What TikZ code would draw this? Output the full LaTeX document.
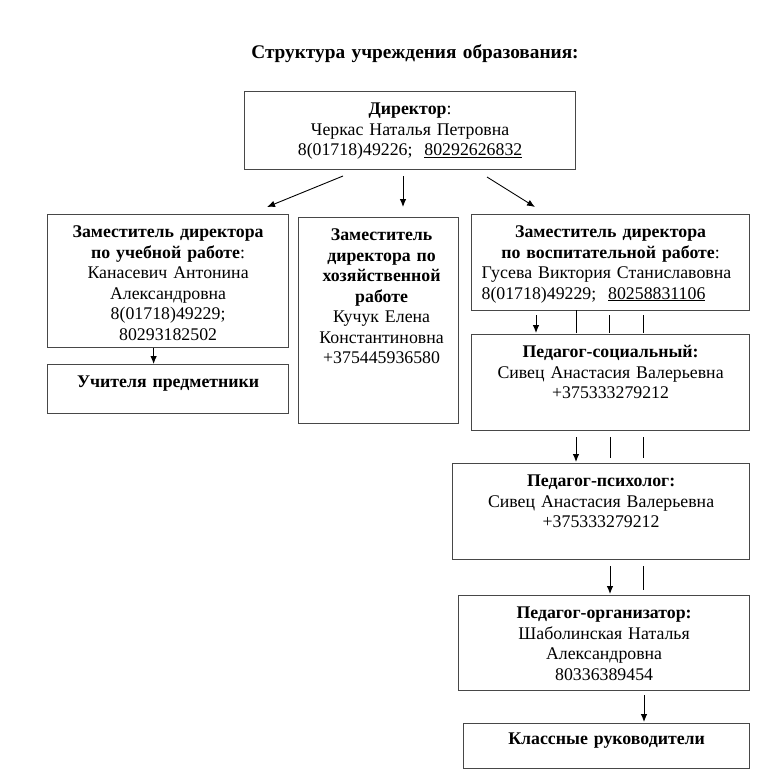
\documentclass[tikz,border=0pt]{standalone}
\usepackage{fontspec}
\setmainfont{Liberation Serif}
\usetikzlibrary{arrows.meta}

\tikzset{
    box/.style={draw=black!72, line width=1.2pt, anchor=north west, inner sep=0pt},
    txt/.style={anchor=base, align=center, inner sep=0pt,
                font=\fontsize{17.8pt}{20.5pt}\selectfont},
    arr/.style={line width=0.9pt, -{Latex[length=8pt,width=6.5pt]}},
    tick/.style={line width=0.9pt}
}

\begin{document}
\begin{tikzpicture}[
    % pixel-like units, y goes down
    x=1pt,
    y=-1pt
]
    \useasboundingbox (0,0) rectangle (776,774);

    % --- Title ---
    \node[txt, text width=420pt, font=\fontsize{19.3pt}{22pt}\selectfont] (title) at (415,58)
        {\textbf{Структура учреждения образования:}};

    % --- Boxes ---
    \node[box, minimum width=331pt, minimum height=78pt]  (dir) at (244,91) {};
    \node[box, minimum width=241pt, minimum height=133pt] (zu)  at (47,214) {};
    \node[box, minimum width=241pt, minimum height=49pt]  (uch) at (47,364) {};
    \node[box, minimum width=160pt, minimum height=206pt] (zh)  at (298,217) {};
    \node[box, minimum width=278pt, minimum height=96pt]  (zv)  at (471,214) {};
    \node[box, minimum width=278pt, minimum height=96pt]  (ps)  at (471,334) {};
    \node[box, minimum width=297pt, minimum height=96pt]  (pp)  at (452,463) {};
    \node[box, minimum width=291pt, minimum height=95pt]  (po)  at (458,595) {};
    \node[box, minimum width=286pt, minimum height=45pt]  (kr)  at (463,723) {};

    % --- Texts in the boxes ---
    \node[txt, text width=327pt] (dir-t) at ([yshift=-23.5pt]dir.north)
        {\textbf{Директор}:\\Черкас Наталья Петровна\\8(01718)49226;~~\underline{80292626832}};
    \node[txt, text width=237pt] (zu-t) at ([yshift=-23.5pt]zu.north)
        {\textbf{Заместитель директора}\\\textbf{по учебной работе}:\\Канасевич Антонина\\Александровна\\8(01718)49229;\\80293182502};
    \node[txt, text width=237pt] (uch-t) at ([yshift=-23.5pt]uch.north)
        {\textbf{Учителя предметники}};
    \node[txt, text width=156pt] (zh-t) at ([xshift=3pt,yshift=-23.5pt]zh.north)
        {\textbf{Заместитель}\\\textbf{директора по}\\\textbf{хозяйственной}\\\textbf{работе}\\Кучук Елена\\Константиновна\\+375445936580};
    \node[txt, text width=258pt] (zv-t) at ([yshift=-23.5pt]zv.north)
        {\textbf{Заместитель директора}\\\textbf{по воспитательной работе}:\par
         {\raggedright Гусева Виктория Станиславовна\\8(01718)49229;~~\underline{80258831106}\par}};
    \node[txt, text width=274pt] (ps-t) at ([yshift=-23.5pt]ps.north)
        {\textbf{Педагог-социальный:}\\Сивец Анастасия Валерьевна\\+375333279212};
    \node[txt, text width=293pt] (pp-t) at ([yshift=-23.5pt]pp.north)
        {\textbf{Педагог-психолог:}\\Сивец Анастасия Валерьевна\\+375333279212};
    \node[txt, text width=287pt] (po-t) at ([yshift=-23.5pt]po.north)
        {\textbf{Педагог-организатор:}\\Шаболинская Наталья\\Александровна\\80336389454};
    \node[txt, text width=282pt] (kr-t) at ([yshift=-21pt]kr.north)
        {\textbf{Классные руководители}};

    % --- Arrows from the director ---
    \coordinate (d1) at (343,176);
    \coordinate (d2) at (403,176);
    \coordinate (d3) at (487,177);
    \draw[arr] (d1) -- (267,207);
    \draw[arr] (d2) -- (403,207);
    \draw[arr] (d3) -- (535,207);

    % --- Left branch ---
    \draw[arr] ([xshift=-14.5pt]zu.south) -- ([xshift=-14.5pt]uch.north);

    % --- Right branch ---
    \draw[arr]  (536,315) -- (536,333);
    \draw[tick] (576,310) -- (576,333);
    \draw[tick] (609,315) -- (609,333);
    \draw[tick] (643,315) -- (643,333);

    \draw[arr]  (576,437) -- (576,462);
    \draw[tick] (610,437) -- (610,458);
    \draw[tick] (643,437) -- (643,458);

    \draw[arr]  (610,566) -- (610,594);
    \draw[tick] (643,566) -- (643,590);

    \draw[arr]  (644,695) -- (644,722);
\end{tikzpicture}
\end{document}
